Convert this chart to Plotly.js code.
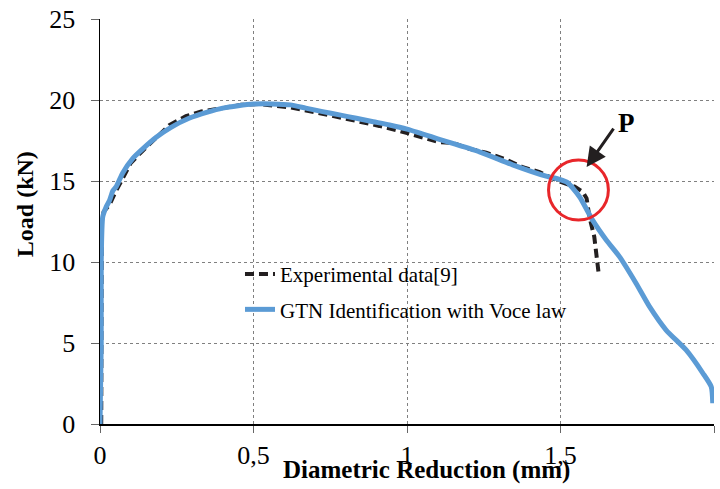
<!DOCTYPE html>
<html>
<head>
<meta charset="utf-8">
<script src="https://cdn.plot.ly/plotly-3.0.1.min.js"></script>
<style>html,body{margin:0;padding:0;background:#fff;}#chart{width:720px;height:489px;}</style>
</head>
<body>
<div id="chart"></div>
<script>
// Experimental data [9]
const expX = [0.004, 0.004, 0.006, 0.012, 0.03, 0.05, 0.07, 0.1, 0.13, 0.17, 0.226, 0.28, 0.33, 0.4, 0.46, 0.52, 0.617, 0.7, 0.77, 0.84, 0.91, 0.97, 1.04, 1.105, 1.15, 1.2, 1.258, 1.32, 1.377, 1.432, 1.486, 1.52, 1.546, 1.572, 1.585, 1.594, 1.61, 1.624];
const expY = [0, 11, 12.6, 13.1, 13.5, 14.3, 15.0, 16.1, 16.7, 17.45, 18.45, 19.0, 19.3, 19.5, 19.7, 19.75, 19.55, 19.25, 18.98, 18.72, 18.4, 18.12, 17.74, 17.4, 17.35, 17.0, 16.75, 16.35, 15.85, 15.55, 15.05, 14.85, 14.65, 14.34, 13.93, 12.8, 11.56, 9.34];
// GTN identification with Voce law
const gtnX = [0, 0.004, 0.004, 0.009, 0.02, 0.031, 0.042, 0.053, 0.074, 0.107, 0.14, 0.183, 0.23, 0.29, 0.35, 0.40, 0.45, 0.50, 0.56, 0.62, 0.67, 0.725, 0.78, 0.835, 0.89, 0.943, 1.0, 1.1, 1.236, 1.344, 1.453, 1.497, 1.523, 1.562, 1.604, 1.649, 1.692, 1.746, 1.79, 1.844, 1.909, 1.964, 1.991, 1.996];
const gtnY = [0, 5, 10, 12.8, 13.4, 13.8, 14.4, 14.65, 15.5, 16.4, 17.0, 17.7, 18.3, 18.87, 19.25, 19.5, 19.65, 19.75, 19.76, 19.7, 19.5, 19.28, 19.08, 18.87, 18.66, 18.46, 18.2, 17.6, 16.8, 16.0, 15.3, 15.1, 14.9, 14.03, 12.6, 11.36, 10.33, 8.69, 7.24, 5.8, 4.57, 3.13, 2.3, 1.28];
const xTickVals = [0, 0.5, 1, 1.5, 2];
const xTickText = ['0', '0,5', '1', '1,5', '2'];
const yTickVals = [0, 5, 10, 15, 20, 25];
const seriesNames = ['Experimental data[9]', 'GTN Identification with Voce law'];

const serif = '"Liberation Serif", "Times New Roman", serif';

const traces = [
  {x: expX, y: expY, name: seriesNames[0], type: 'scatter', mode: 'lines',
   line: {color: '#231F20', width: 4, dash: '9px,5px'}, legendgroup: 'a', cliponaxis: false},
  {x: gtnX, y: gtnY, name: seriesNames[1], type: 'scatter', mode: 'lines',
   line: {color: '#5B9BD5', width: 5, shape: 'spline', smoothing: 0.6}, legendgroup: 'b', cliponaxis: false}
];

const layout = {
  width: 720, height: 489,
  margin: {l: 100, r: 6, t: 19, b: 65},
  paper_bgcolor: '#fff', plot_bgcolor: '#fff',
  font: {family: serif, color: '#000'},
  showlegend: true,
  legend: {x: 0.228, y: 0.42, xanchor: 'left', yanchor: 'top', bgcolor: 'rgba(0,0,0,0)',
           font: {family: serif, size: 21, color: '#000'}, traceorder: 'grouped', tracegroupgap: 5},
  xaxis: {range: [0, 2], tickvals: xTickVals, ticktext: xTickText, showgrid: true,
          gridcolor: '#808080', griddash: 'dot', gridwidth: 1,
          showline: true, linecolor: '#000', linewidth: 1.5, zeroline: false,
          ticks: 'outside', ticklen: 7, tickcolor: '#666', tickfont: {family: serif, size: 26}},
  yaxis: {range: [0, 25], tickvals: yTickVals, showgrid: true,
          gridcolor: '#808080', griddash: 'dot', gridwidth: 1,
          showline: true, linecolor: '#000', linewidth: 1.5, zeroline: false,
          ticks: 'outside', ticklen: 8, tickcolor: '#666', tickfont: {family: serif, size: 26},
          ticklabelstandoff: 10},
  shapes: [
    {type: 'circle', xref: 'x', yref: 'y', x0: 1.461, x1: 1.656, y0: 12.59, y1: 16.3,
     line: {color: '#E8262A', width: 3}}
  ],
  annotations: [
    {text: '<b>Diametric Reduction (mm)</b>', xref: 'paper', yref: 'paper', x: 0.531, y: -0.1136,
     xanchor: 'center', yanchor: 'middle', showarrow: false, font: {family: serif, size: 25, color: '#000'}},
    {text: '<b>Load (kN)</b>', xref: 'paper', yref: 'paper', x: -0.122, y: 0.543, textangle: -90,
     xanchor: 'center', yanchor: 'middle', showarrow: false, font: {family: serif, size: 24, color: '#000'}},
    {text: '<b>P</b>', xref: 'x', yref: 'y', x: 1.715, y: 18.58, xanchor: 'center', yanchor: 'middle',
     showarrow: false, font: {family: serif, size: 27, color: '#000'}},
    {text: '', xref: 'x', yref: 'y', x: 1.585, y: 15.86, ax: 28, ay: -40, showarrow: true,
     arrowhead: 2, arrowsize: 1.3, arrowwidth: 3, arrowcolor: '#231F20'}
  ]
};

Plotly.newPlot('chart', traces, layout, {displayModeBar: false, staticPlot: true});
</script>
</body>
</html>
